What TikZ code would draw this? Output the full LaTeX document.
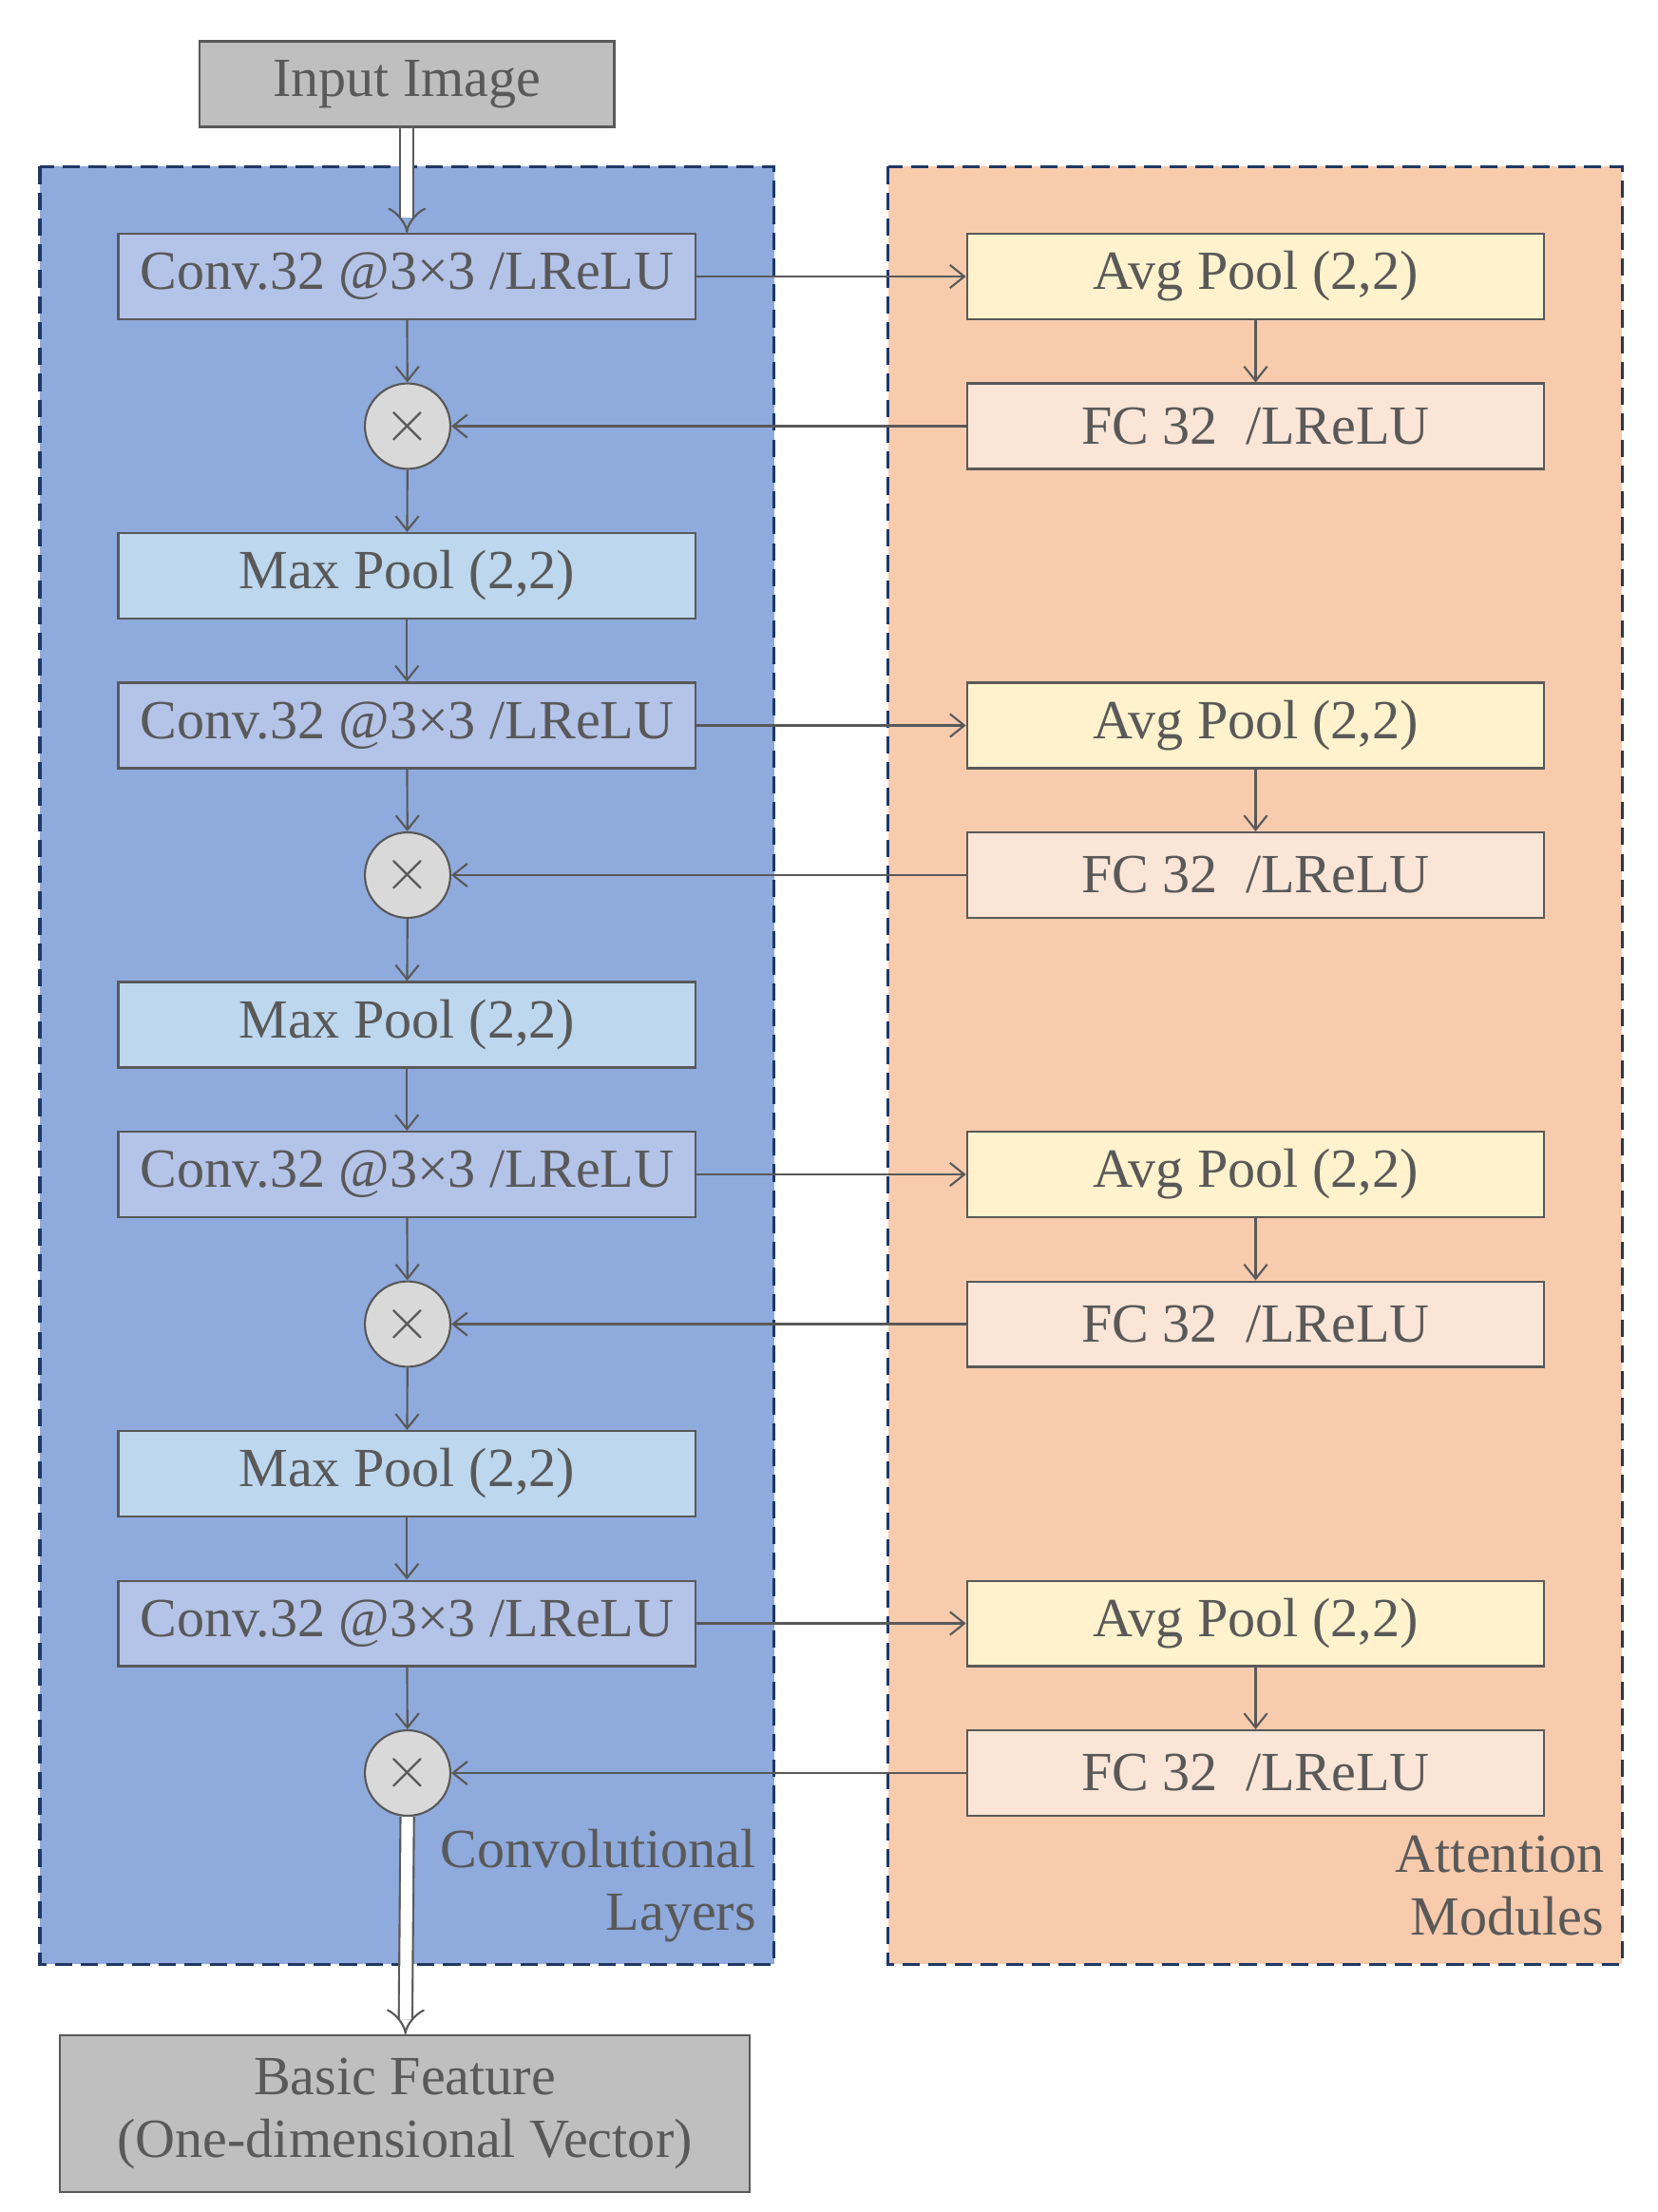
\documentclass[tikz,border=0pt]{standalone}
\usepackage{fontspec}
\setmainfont{Liberation Serif}
\usetikzlibrary{arrows.meta}
\definecolor{txt}{HTML}{595959}
\definecolor{edge}{HTML}{595959}
\begin{document}
\begin{tikzpicture}[x=0.4955pt,y=-0.4955pt,
  font=\fontsize{19.2}{22}\selectfont, text=txt,
  box/.style={draw=edge, line width=0.7pt, minimum width=200.7pt, minimum height=29.7pt, inner sep=0pt},
  conv/.style={box, fill=conv}, mp/.style={box, fill=mp}, ap/.style={box, fill=ap}, fc/.style={box, fill=fc},
  mul/.style={circle, draw=edge, line width=0.7pt, fill=mulc, minimum size=29.7pt, inner sep=0pt},
  arr/.style={draw=edge, line width=0.7pt, -{Straight Barb[length=5pt,width=8pt]}},
  dbl/.style={draw=edge, line width=0.7pt, double=white, double distance=4pt, -{Implies[length=6pt]}},
  panel/.style={line width=1pt, draw=navy, dash pattern=on 6pt off 3pt}]
\definecolor{conv}{HTML}{B4C3E8}\definecolor{mp}{HTML}{BDD7EE}\definecolor{ap}{HTML}{FFF2CC}
\definecolor{fc}{HTML}{FBE5D6}\definecolor{mulc}{HTML}{D9D9D9}\definecolor{navy}{HTML}{1F3864}
\useasboundingbox (0,0) rectangle (1163,1552);
\path[panel, fill={rgb,255:red,143;green,170;blue,220}] (28,117) rectangle (543,1378);
\path[panel, fill={rgb,255:red,248;green,203;blue,173}] (623,117) rectangle (1138,1378);
\node[box, fill={rgb,255:red,191;green,191;blue,191}, minimum width=144.2pt] (in) at (285.5,59) {Input Image};
\node[box, fill={rgb,255:red,191;green,191;blue,191}, minimum width=239.8pt, minimum height=54.5pt, align=center] (out) at (284,1483) {Basic Feature\\(One-dimensional Vector)};
\foreach \i/\y in {1/194,2/509,3/824,4/1139}{
  \node[conv] (c\i) at (285.5,\y) {Conv.32 @3×3 /LReLU};
  \node[ap] (a\i) at (881,\y) {Avg Pool (2,2)};
  \node[fc] (f\i) at (881,\y+105) {FC 32\ \ /LReLU};
  \node[mul] (m\i) at (286,\y+105) {$\times$};
  \draw[arr] (c\i) -- (a\i);
  \draw[arr] (a\i) -- (f\i);
  \draw[arr] (f\i) -- (m\i);
  \draw[arr] (c\i) -- (m\i);
}
\foreach \i/\y in {1/404,2/719,3/1034}{
  \node[mp] (p\i) at (285.5,\y) {Max Pool (2,2)};
}
\draw[arr] (m1) -- (p1); \draw[arr] (p1) -- (c2);
\draw[arr] (m2) -- (p2); \draw[arr] (p2) -- (c3);
\draw[arr] (m3) -- (p3); \draw[arr] (p3) -- (c4);
\draw[dbl] (in) -- (c1);
\draw[dbl] (m4) -- (out);
\node[align=right, anchor=east, inner sep=0pt] (lc) at (531,1323) {Convolutional\\Layers};
\node[align=right, anchor=east, inner sep=0pt] (la) at (1126,1323) {Attention\\Modules};
\end{tikzpicture}
\end{document}
